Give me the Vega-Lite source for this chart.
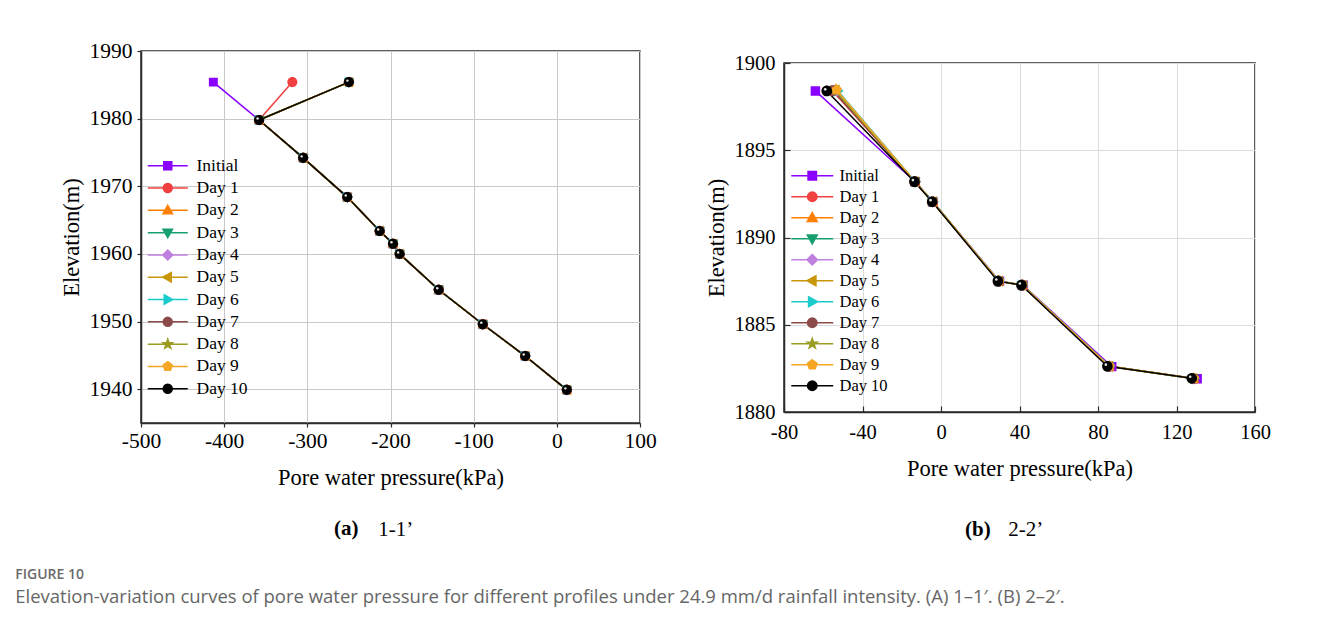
{
  "$schema": "https://vega.github.io/schema/vega-lite/v6.json",
  "padding": {"left": 15, "top": 39, "right": 10, "bottom": 10},
  "datasets": {
    "A": [
      {"s":"Initial","i":0,"x":-413,"y":1985.4},{"s":"Initial","i":1,"x":-358,"y":1979.8},{"s":"Initial","i":2,"x":-305,"y":1974.2},{"s":"Initial","i":3,"x":-252,"y":1968.4},{"s":"Initial","i":4,"x":-213,"y":1963.4},{"s":"Initial","i":5,"x":-197,"y":1961.5},{"s":"Initial","i":6,"x":-189,"y":1960},{"s":"Initial","i":7,"x":-142,"y":1954.7},{"s":"Initial","i":8,"x":-89,"y":1949.6},{"s":"Initial","i":9,"x":-38,"y":1944.9},{"s":"Initial","i":10,"x":12,"y":1939.9},
      {"s":"Day 1","i":0,"x":-318,"y":1985.4},{"s":"Day 1","i":1,"x":-358,"y":1979.8},{"s":"Day 1","i":2,"x":-305,"y":1974.2},{"s":"Day 1","i":3,"x":-252,"y":1968.4},{"s":"Day 1","i":4,"x":-213,"y":1963.4},{"s":"Day 1","i":5,"x":-197,"y":1961.5},{"s":"Day 1","i":6,"x":-189,"y":1960},{"s":"Day 1","i":7,"x":-142,"y":1954.7},{"s":"Day 1","i":8,"x":-89,"y":1949.6},{"s":"Day 1","i":9,"x":-38,"y":1944.9},{"s":"Day 1","i":10,"x":12,"y":1939.9},
      {"s":"Day 2","i":0,"x":-250,"y":1985.4},{"s":"Day 2","i":1,"x":-358,"y":1979.8},{"s":"Day 2","i":2,"x":-305,"y":1974.2},{"s":"Day 2","i":3,"x":-252,"y":1968.4},{"s":"Day 2","i":4,"x":-213,"y":1963.4},{"s":"Day 2","i":5,"x":-197,"y":1961.5},{"s":"Day 2","i":6,"x":-189,"y":1960},{"s":"Day 2","i":7,"x":-142,"y":1954.7},{"s":"Day 2","i":8,"x":-89,"y":1949.6},{"s":"Day 2","i":9,"x":-38,"y":1944.9},{"s":"Day 2","i":10,"x":12,"y":1939.9},
      {"s":"Day 3","i":0,"x":-250,"y":1985.4},{"s":"Day 3","i":1,"x":-358,"y":1979.8},{"s":"Day 3","i":2,"x":-305,"y":1974.2},{"s":"Day 3","i":3,"x":-252,"y":1968.4},{"s":"Day 3","i":4,"x":-213,"y":1963.4},{"s":"Day 3","i":5,"x":-197,"y":1961.5},{"s":"Day 3","i":6,"x":-189,"y":1960},{"s":"Day 3","i":7,"x":-142,"y":1954.7},{"s":"Day 3","i":8,"x":-89,"y":1949.6},{"s":"Day 3","i":9,"x":-38,"y":1944.9},{"s":"Day 3","i":10,"x":12,"y":1939.9},
      {"s":"Day 4","i":0,"x":-250,"y":1985.4},{"s":"Day 4","i":1,"x":-358,"y":1979.8},{"s":"Day 4","i":2,"x":-305,"y":1974.2},{"s":"Day 4","i":3,"x":-252,"y":1968.4},{"s":"Day 4","i":4,"x":-213,"y":1963.4},{"s":"Day 4","i":5,"x":-197,"y":1961.5},{"s":"Day 4","i":6,"x":-189,"y":1960},{"s":"Day 4","i":7,"x":-142,"y":1954.7},{"s":"Day 4","i":8,"x":-89,"y":1949.6},{"s":"Day 4","i":9,"x":-38,"y":1944.9},{"s":"Day 4","i":10,"x":12,"y":1939.9},
      {"s":"Day 5","i":0,"x":-250,"y":1985.4},{"s":"Day 5","i":1,"x":-358,"y":1979.8},{"s":"Day 5","i":2,"x":-305,"y":1974.2},{"s":"Day 5","i":3,"x":-252,"y":1968.4},{"s":"Day 5","i":4,"x":-213,"y":1963.4},{"s":"Day 5","i":5,"x":-197,"y":1961.5},{"s":"Day 5","i":6,"x":-189,"y":1960},{"s":"Day 5","i":7,"x":-142,"y":1954.7},{"s":"Day 5","i":8,"x":-89,"y":1949.6},{"s":"Day 5","i":9,"x":-38,"y":1944.9},{"s":"Day 5","i":10,"x":12,"y":1939.9},
      {"s":"Day 6","i":0,"x":-250,"y":1985.4},{"s":"Day 6","i":1,"x":-358,"y":1979.8},{"s":"Day 6","i":2,"x":-305,"y":1974.2},{"s":"Day 6","i":3,"x":-252,"y":1968.4},{"s":"Day 6","i":4,"x":-213,"y":1963.4},{"s":"Day 6","i":5,"x":-197,"y":1961.5},{"s":"Day 6","i":6,"x":-189,"y":1960},{"s":"Day 6","i":7,"x":-142,"y":1954.7},{"s":"Day 6","i":8,"x":-89,"y":1949.6},{"s":"Day 6","i":9,"x":-38,"y":1944.9},{"s":"Day 6","i":10,"x":12,"y":1939.9},
      {"s":"Day 7","i":0,"x":-250,"y":1985.4},{"s":"Day 7","i":1,"x":-358,"y":1979.8},{"s":"Day 7","i":2,"x":-305,"y":1974.2},{"s":"Day 7","i":3,"x":-252,"y":1968.4},{"s":"Day 7","i":4,"x":-213,"y":1963.4},{"s":"Day 7","i":5,"x":-197,"y":1961.5},{"s":"Day 7","i":6,"x":-189,"y":1960},{"s":"Day 7","i":7,"x":-142,"y":1954.7},{"s":"Day 7","i":8,"x":-89,"y":1949.6},{"s":"Day 7","i":9,"x":-38,"y":1944.9},{"s":"Day 7","i":10,"x":12,"y":1939.9},
      {"s":"Day 8","i":0,"x":-250,"y":1985.4},{"s":"Day 8","i":1,"x":-358,"y":1979.8},{"s":"Day 8","i":2,"x":-305,"y":1974.2},{"s":"Day 8","i":3,"x":-252,"y":1968.4},{"s":"Day 8","i":4,"x":-213,"y":1963.4},{"s":"Day 8","i":5,"x":-197,"y":1961.5},{"s":"Day 8","i":6,"x":-189,"y":1960},{"s":"Day 8","i":7,"x":-142,"y":1954.7},{"s":"Day 8","i":8,"x":-89,"y":1949.6},{"s":"Day 8","i":9,"x":-38,"y":1944.9},{"s":"Day 8","i":10,"x":12,"y":1939.9},
      {"s":"Day 9","i":0,"x":-250,"y":1985.4},{"s":"Day 9","i":1,"x":-358,"y":1979.8},{"s":"Day 9","i":2,"x":-305,"y":1974.2},{"s":"Day 9","i":3,"x":-252,"y":1968.4},{"s":"Day 9","i":4,"x":-213,"y":1963.4},{"s":"Day 9","i":5,"x":-197,"y":1961.5},{"s":"Day 9","i":6,"x":-189,"y":1960},{"s":"Day 9","i":7,"x":-142,"y":1954.7},{"s":"Day 9","i":8,"x":-89,"y":1949.6},{"s":"Day 9","i":9,"x":-38,"y":1944.9},{"s":"Day 9","i":10,"x":12,"y":1939.9},
      {"s":"Day 10","i":0,"x":-250,"y":1985.4},{"s":"Day 10","i":1,"x":-358,"y":1979.8},{"s":"Day 10","i":2,"x":-305,"y":1974.2},{"s":"Day 10","i":3,"x":-252,"y":1968.4},{"s":"Day 10","i":4,"x":-213,"y":1963.4},{"s":"Day 10","i":5,"x":-197,"y":1961.5},{"s":"Day 10","i":6,"x":-189,"y":1960},{"s":"Day 10","i":7,"x":-142,"y":1954.7},{"s":"Day 10","i":8,"x":-89,"y":1949.6},{"s":"Day 10","i":9,"x":-38,"y":1944.9},{"s":"Day 10","i":10,"x":12,"y":1939.9}
    ],
    "B": [
      {"s":"Initial","i":0,"x":-64,"y":1898.4},{"s":"Initial","i":1,"x":-13.2,"y":1893.2},{"s":"Initial","i":2,"x":-4.2,"y":1892.05},{"s":"Initial","i":3,"x":29.8,"y":1887.5},{"s":"Initial","i":4,"x":41.8,"y":1887.27},{"s":"Initial","i":5,"x":87,"y":1882.6},{"s":"Initial","i":6,"x":130.5,"y":1881.9},
      {"s":"Day 1","i":0,"x":-55.5,"y":1898.42},{"s":"Day 1","i":1,"x":-13.3,"y":1893.2},{"s":"Day 1","i":2,"x":-4.3,"y":1892.05},{"s":"Day 1","i":3,"x":29.4,"y":1887.5},{"s":"Day 1","i":4,"x":41.4,"y":1887.27},{"s":"Day 1","i":5,"x":85.6,"y":1882.62},{"s":"Day 1","i":6,"x":128.6,"y":1881.92},
      {"s":"Day 2","i":0,"x":-53.5,"y":1898.5},{"s":"Day 2","i":1,"x":-13.2,"y":1893.2},{"s":"Day 2","i":2,"x":-4.2,"y":1892.05},{"s":"Day 2","i":3,"x":29.5,"y":1887.5},{"s":"Day 2","i":4,"x":41.5,"y":1887.27},{"s":"Day 2","i":5,"x":85.8,"y":1882.62},{"s":"Day 2","i":6,"x":128.8,"y":1881.92},
      {"s":"Day 3","i":0,"x":-54.5,"y":1898.45},{"s":"Day 3","i":1,"x":-13.3,"y":1893.18},{"s":"Day 3","i":2,"x":-4.3,"y":1892.04},{"s":"Day 3","i":3,"x":29.4,"y":1887.49},{"s":"Day 3","i":4,"x":41.4,"y":1887.26},{"s":"Day 3","i":5,"x":85.6,"y":1882.61},{"s":"Day 3","i":6,"x":128.6,"y":1881.91},
      {"s":"Day 4","i":0,"x":-53,"y":1898.42},{"s":"Day 4","i":1,"x":-13.2,"y":1893.2},{"s":"Day 4","i":2,"x":-4.2,"y":1892.05},{"s":"Day 4","i":3,"x":29.5,"y":1887.5},{"s":"Day 4","i":4,"x":41.5,"y":1887.27},{"s":"Day 4","i":5,"x":85.8,"y":1882.62},{"s":"Day 4","i":6,"x":128.8,"y":1881.92},
      {"s":"Day 5","i":0,"x":-53.8,"y":1898.46},{"s":"Day 5","i":1,"x":-13.3,"y":1893.2},{"s":"Day 5","i":2,"x":-4.3,"y":1892.05},{"s":"Day 5","i":3,"x":29.4,"y":1887.5},{"s":"Day 5","i":4,"x":41.4,"y":1887.27},{"s":"Day 5","i":5,"x":85.6,"y":1882.62},{"s":"Day 5","i":6,"x":128.6,"y":1881.92},
      {"s":"Day 6","i":0,"x":-52.5,"y":1898.4},{"s":"Day 6","i":1,"x":-13.1,"y":1893.2},{"s":"Day 6","i":2,"x":-4.1,"y":1892.05},{"s":"Day 6","i":3,"x":29.6,"y":1887.5},{"s":"Day 6","i":4,"x":41.6,"y":1887.27},{"s":"Day 6","i":5,"x":86,"y":1882.62},{"s":"Day 6","i":6,"x":129,"y":1881.92},
      {"s":"Day 7","i":0,"x":-55,"y":1898.42},{"s":"Day 7","i":1,"x":-13.3,"y":1893.2},{"s":"Day 7","i":2,"x":-4.3,"y":1892.05},{"s":"Day 7","i":3,"x":29.4,"y":1887.5},{"s":"Day 7","i":4,"x":41.4,"y":1887.27},{"s":"Day 7","i":5,"x":85.6,"y":1882.62},{"s":"Day 7","i":6,"x":128.6,"y":1881.92},
      {"s":"Day 8","i":0,"x":-54,"y":1898.44},{"s":"Day 8","i":1,"x":-13.3,"y":1893.2},{"s":"Day 8","i":2,"x":-4.3,"y":1892.05},{"s":"Day 8","i":3,"x":29.4,"y":1887.5},{"s":"Day 8","i":4,"x":41.4,"y":1887.27},{"s":"Day 8","i":5,"x":85.6,"y":1882.62},{"s":"Day 8","i":6,"x":128.6,"y":1881.92},
      {"s":"Day 9","i":0,"x":-53.2,"y":1898.45},{"s":"Day 9","i":1,"x":-13.2,"y":1893.2},{"s":"Day 9","i":2,"x":-4.2,"y":1892.05},{"s":"Day 9","i":3,"x":29.5,"y":1887.5},{"s":"Day 9","i":4,"x":41.5,"y":1887.27},{"s":"Day 9","i":5,"x":85.8,"y":1882.62},{"s":"Day 9","i":6,"x":128.8,"y":1881.92},
      {"s":"Day 10","i":0,"x":-58.2,"y":1898.4},{"s":"Day 10","i":1,"x":-13.5,"y":1893.2},{"s":"Day 10","i":2,"x":-4.5,"y":1892.05},{"s":"Day 10","i":3,"x":29,"y":1887.5},{"s":"Day 10","i":4,"x":41,"y":1887.27},{"s":"Day 10","i":5,"x":84.8,"y":1882.62},{"s":"Day 10","i":6,"x":127.8,"y":1881.93}
    ]
  },
  "title": {
    "text": "FIGURE 10",
    "subtitle": "Elevation-variation curves of pore water pressure for different profiles under 24.9 mm/d rainfall intensity. (A) 1–1′. (B) 2–2′.",
    "orient": "bottom", "anchor": "start", "frame": "bounds", "dx": -44, "offset": 28,
    "font": "Open Sans", "fontSize": 14, "fontWeight": 600, "color": "#6b6b6b",
    "subtitleFont": "Open Sans", "subtitleFontSize": 18.5, "subtitleColor": "#666666", "subtitlePadding": 6
  },
  "spacing": 47,
  "resolve": {
    "scale": {"x": "independent", "y": "independent", "color": "independent", "fill": "independent", "stroke": "independent", "shape": "independent"},
    "legend": {"color": "independent", "fill": "independent", "stroke": "independent", "shape": "independent"}
  },
  "hconcat": [
    {
      "title": {"text": "1-1’", "orient": "bottom", "anchor": "start", "frame": "bounds", "dx": 319, "dy": -21, "offset": 0,
                "font": "Liberation Serif", "fontSize": 21, "fontWeight": "normal", "color": "#000000"},
      "resolve": {
        "scale": {"x": "independent", "y": "independent", "color": "independent", "fill": "independent", "stroke": "independent", "shape": "independent"},
        "legend": {"color": "independent", "fill": "independent", "stroke": "independent", "shape": "independent"}
      },
      "vconcat": [
        {
          "width": 499, "height": 372,
          "data": {"name": "A"},
          "title": {
            "text": "(a)", "orient": "bottom", "anchor": "start", "frame": "group", "dx": 193, "offset": 29,
            "font": "Liberation Serif", "fontSize": 21, "fontWeight": "bold", "color": "#000000"
          },
          "resolve": {
            "scale": {"fill": "independent", "stroke": "independent", "shape": "independent"},
            "legend": {"fill": "independent", "stroke": "independent", "shape": "independent"}
          },
          "encoding": {
            "x": {"field": "x", "type": "quantitative", "scale": {"domain": [-500, 100], "nice": false, "zero": false},
                  "axis": {"title": "Pore water pressure(kPa)", "values": [-500, -400, -300, -200, -100, 0, 100], "labelExpr": "'' + datum.value", "labelFontSize": 21.5, "tickSize": 4, "labelPadding": 3, "titlePadding": 15, "gridColor": "#c8c8c8"}},
            "y": {"field": "y", "type": "quantitative", "scale": {"domain": [1935, 1990], "nice": false, "zero": false},
                  "axis": {"title": "Elevation(m)", "values": [1940, 1950, 1960, 1970, 1980, 1990], "labelExpr": "'' + datum.value", "labelFontSize": 21.5, "tickSize": 4, "labelPadding": 5, "titlePadding": 6, "gridColor": "#c8c8c8"}}
          },
          "layer": [
            {
              "mark": {"type": "line", "strokeWidth": 1.5},
              "encoding": {
                "color": {"field": "s", "type": "nominal", "scale": {"domain": ["Initial","Day 1","Day 2","Day 3","Day 4","Day 5","Day 6","Day 7","Day 8","Day 9","Day 10"], "range": ["#8A00FF","#F14040","#FF7F00","#16A06F","#BF80E0","#C8960A","#1BCBCB","#8C4A4A","#9C9C22","#F5A623","#000000"]}, "legend": null},
                "order": {"field": "i", "type": "quantitative"}
              }
            },
            {
              "mark": {"type": "point", "filled": true, "size": 125, "opacity": 1},
              "encoding": {
                "color": {"field": "s", "type": "nominal", "scale": {"domain": ["Initial","Day 1","Day 2","Day 3","Day 4","Day 5","Day 6","Day 7","Day 8","Day 9","Day 10"], "range": ["#8A00FF","#F14040","#FF7F00","#16A06F","#BF80E0","#C8960A","#1BCBCB","#8C4A4A","#9C9C22","#F5A623","#000000"]}, "legend": null},
                "shape": {"field": "s", "type": "nominal", "scale": {"domain": ["Initial","Day 1","Day 2","Day 3","Day 4","Day 5","Day 6","Day 7","Day 8","Day 9","Day 10"], "range": ["M-4,0H4M-0.8,-0.8H0.8V0.8H-0.8Z","M-4,0H4M-0.9,0A0.9,0.9,0,1,0,0.9,0A0.9,0.9,0,1,0,-0.9,0Z","M-4,0H4M0,-1L0.95,0.7H-0.95Z","M-4,0H4M0,1L0.95,-0.7H-0.95Z","M-4,0H4M0,-1L1,0L0,1L-1,0Z","M-4,0H4M-1,0L0.7,-0.95V0.95Z","M-4,0H4M1,0L-0.7,-0.95V0.95Z","M-4,0H4M-0.9,0A0.9,0.9,0,1,0,0.9,0A0.9,0.9,0,1,0,-0.9,0Z","M-4,0H4M0,-1L0.235,-0.324L0.951,-0.309L0.38,0.124L0.588,0.809L0,0.4L-0.588,0.809L-0.38,0.124L-0.951,-0.309L-0.235,-0.324Z","M-4,0H4M0,-0.95L0.9,-0.29L0.56,0.77H-0.56L-0.9,-0.29Z","M-4,0H4M-0.9,0A0.9,0.9,0,1,0,0.9,0A0.9,0.9,0,1,0,-0.9,0Z"]}, "legend": null}
              }
            },
            {
              "transform": [{"filter": "datum.s == 'Day 10'"}],
              "mark": {"type": "point", "filled": true, "size": 6, "opacity": 0.9, "color": "#ffffff", "xOffset": -1.5, "yOffset": -1.5}
            },
            {
              "transform": [{"filter": "false"}],
              "mark": {"type": "point", "filled": true, "opacity": 1, "strokeWidth": 1.5},
              "encoding": {
                "fill": {"field": "s", "type": "nominal", "scale": {"domain": ["Initial","Day 1","Day 2","Day 3","Day 4","Day 5","Day 6","Day 7","Day 8","Day 9","Day 10"], "range": ["#8A00FF","#F14040","#FF7F00","#16A06F","#BF80E0","#C8960A","#1BCBCB","#8C4A4A","#9C9C22","#F5A623","#000000"]},
                         "legend": {"title": null, "orient": "none", "legendX": 18, "legendY": 106, "symbolSize": 100, "symbolStrokeWidth": 1.5, "labelOffset": 20, "labelFont": "Liberation Serif", "labelFontSize": 17.5, "labelColor": "#000000", "rowPadding": 3.3, "padding": 0}},
                "stroke": {"field": "s", "type": "nominal", "scale": {"domain": ["Initial","Day 1","Day 2","Day 3","Day 4","Day 5","Day 6","Day 7","Day 8","Day 9","Day 10"], "range": ["#8A00FF","#F14040","#FF7F00","#16A06F","#BF80E0","#C8960A","#1BCBCB","#8C4A4A","#9C9C22","#F5A623","#000000"]},
                         "legend": {"title": null, "orient": "none", "legendX": 18, "legendY": 106, "symbolSize": 100, "symbolStrokeWidth": 1.5, "labelOffset": 20, "labelFont": "Liberation Serif", "labelFontSize": 17.5, "labelColor": "#000000", "rowPadding": 3.3, "padding": 0}},
                "shape": {"field": "s", "type": "nominal", "scale": {"domain": ["Initial","Day 1","Day 2","Day 3","Day 4","Day 5","Day 6","Day 7","Day 8","Day 9","Day 10"], "range": ["M-4,0H4M-0.8,-0.8H0.8V0.8H-0.8Z","M-4,0H4M-0.9,0A0.9,0.9,0,1,0,0.9,0A0.9,0.9,0,1,0,-0.9,0Z","M-4,0H4M0,-1L0.95,0.7H-0.95Z","M-4,0H4M0,1L0.95,-0.7H-0.95Z","M-4,0H4M0,-1L1,0L0,1L-1,0Z","M-4,0H4M-1,0L0.7,-0.95V0.95Z","M-4,0H4M1,0L-0.7,-0.95V0.95Z","M-4,0H4M-0.9,0A0.9,0.9,0,1,0,0.9,0A0.9,0.9,0,1,0,-0.9,0Z","M-4,0H4M0,-1L0.235,-0.324L0.951,-0.309L0.38,0.124L0.588,0.809L0,0.4L-0.588,0.809L-0.38,0.124L-0.951,-0.309L-0.235,-0.324Z","M-4,0H4M0,-0.95L0.9,-0.29L0.56,0.77H-0.56L-0.9,-0.29Z","M-4,0H4M-0.9,0A0.9,0.9,0,1,0,0.9,0A0.9,0.9,0,1,0,-0.9,0Z"]},
                         "legend": {"title": null, "orient": "none", "legendX": 18, "legendY": 106, "symbolSize": 100, "symbolStrokeWidth": 1.5, "labelOffset": 20, "labelFont": "Liberation Serif", "labelFontSize": 17.5, "labelColor": "#000000", "rowPadding": 3.3, "padding": 0}}
              }
            }
          ]
        }
      ]
    },
    {
      "title": {"text": "2-2’", "orient": "bottom", "anchor": "start", "frame": "bounds", "dx": 304, "dy": -21, "offset": 0,
                "font": "Liberation Serif", "fontSize": 21, "fontWeight": "normal", "color": "#000000"},
      "spacing": 0,
      "resolve": {
        "scale": {"x": "independent", "y": "independent", "color": "independent", "fill": "independent", "stroke": "independent", "shape": "independent"},
        "legend": {"color": "independent", "fill": "independent", "stroke": "independent", "shape": "independent"}
      },
      "vconcat": [
        {"width": 10, "height": 1, "data": {"values": []}, "mark": "point", "view": {"stroke": null}},
        {
          "width": 471, "height": 349,
          "data": {"name": "B"},
          "title": {
            "text": "(b)", "orient": "bottom", "anchor": "start", "frame": "group", "dx": 181, "offset": 39,
            "font": "Liberation Serif", "fontSize": 21, "fontWeight": "bold", "color": "#000000"
          },
          "resolve": {
            "scale": {"fill": "independent", "stroke": "independent", "shape": "independent"},
            "legend": {"fill": "independent", "stroke": "independent", "shape": "independent"}
          },
          "encoding": {
            "x": {"field": "x", "type": "quantitative", "scale": {"domain": [-80, 160], "nice": false, "zero": false},
                  "axis": {"title": "Pore water pressure(kPa)", "values": [-80, -40, 0, 40, 80, 120, 160], "labelExpr": "'' + datum.value", "labelFontSize": 20.5, "tickSize": -6, "labelPadding": 16.5, "titlePadding": 14, "gridColor": "#dcdcdc"}},
            "y": {"field": "y", "type": "quantitative", "scale": {"domain": [1880, 1900], "nice": false, "zero": false},
                  "axis": {"title": "Elevation(m)", "values": [1880, 1885, 1890, 1895, 1900], "labelExpr": "'' + datum.value", "labelFontSize": 20.5, "tickSize": -6, "labelPadding": 15, "titlePadding": 6, "gridColor": "#dcdcdc"}}
          },
          "layer": [
            {
              "mark": {"type": "line", "strokeWidth": 1.5},
              "encoding": {
                "color": {"field": "s", "type": "nominal", "scale": {"domain": ["Initial","Day 1","Day 2","Day 3","Day 4","Day 5","Day 6","Day 7","Day 8","Day 9","Day 10"], "range": ["#8A00FF","#F14040","#FF7F00","#16A06F","#BF80E0","#C8960A","#1BCBCB","#8C4A4A","#9C9C22","#F5A623","#000000"]}, "legend": null},
                "order": {"field": "i", "type": "quantitative"}
              }
            },
            {
              "mark": {"type": "point", "filled": true, "size": 140, "opacity": 1},
              "encoding": {
                "color": {"field": "s", "type": "nominal", "scale": {"domain": ["Initial","Day 1","Day 2","Day 3","Day 4","Day 5","Day 6","Day 7","Day 8","Day 9","Day 10"], "range": ["#8A00FF","#F14040","#FF7F00","#16A06F","#BF80E0","#C8960A","#1BCBCB","#8C4A4A","#9C9C22","#F5A623","#000000"]}, "legend": null},
                "shape": {"field": "s", "type": "nominal", "scale": {"domain": ["Initial","Day 1","Day 2","Day 3","Day 4","Day 5","Day 6","Day 7","Day 8","Day 9","Day 10"], "range": ["M-4,0H4M-0.8,-0.8H0.8V0.8H-0.8Z","M-4,0H4M-0.9,0A0.9,0.9,0,1,0,0.9,0A0.9,0.9,0,1,0,-0.9,0Z","M-4,0H4M0,-1L0.95,0.7H-0.95Z","M-4,0H4M0,1L0.95,-0.7H-0.95Z","M-4,0H4M0,-1L1,0L0,1L-1,0Z","M-4,0H4M-1,0L0.7,-0.95V0.95Z","M-4,0H4M1,0L-0.7,-0.95V0.95Z","M-4,0H4M-0.9,0A0.9,0.9,0,1,0,0.9,0A0.9,0.9,0,1,0,-0.9,0Z","M-4,0H4M0,-1L0.235,-0.324L0.951,-0.309L0.38,0.124L0.588,0.809L0,0.4L-0.588,0.809L-0.38,0.124L-0.951,-0.309L-0.235,-0.324Z","M-4,0H4M0,-0.95L0.9,-0.29L0.56,0.77H-0.56L-0.9,-0.29Z","M-4,0H4M-0.9,0A0.9,0.9,0,1,0,0.9,0A0.9,0.9,0,1,0,-0.9,0Z"]}, "legend": null}
              }
            },
            {
              "transform": [{"filter": "datum.s == 'Day 10'"}],
              "mark": {"type": "point", "filled": true, "size": 7, "opacity": 0.9, "color": "#ffffff", "xOffset": -1.6, "yOffset": -1.6}
            },
            {
              "transform": [{"filter": "false"}],
              "mark": {"type": "point", "filled": true, "opacity": 1, "strokeWidth": 1.5},
              "encoding": {
                "fill": {"field": "s", "type": "nominal", "scale": {"domain": ["Initial","Day 1","Day 2","Day 3","Day 4","Day 5","Day 6","Day 7","Day 8","Day 9","Day 10"], "range": ["#8A00FF","#F14040","#FF7F00","#16A06F","#BF80E0","#C8960A","#1BCBCB","#8C4A4A","#9C9C22","#F5A623","#000000"]},
                         "legend": {"title": null, "orient": "none", "legendX": 20, "legendY": 104.5, "symbolSize": 110, "symbolStrokeWidth": 1.5, "labelOffset": 19, "labelFont": "Liberation Serif", "labelFontSize": 16.5, "labelColor": "#000000", "rowPadding": 4, "padding": 0}},
                "stroke": {"field": "s", "type": "nominal", "scale": {"domain": ["Initial","Day 1","Day 2","Day 3","Day 4","Day 5","Day 6","Day 7","Day 8","Day 9","Day 10"], "range": ["#8A00FF","#F14040","#FF7F00","#16A06F","#BF80E0","#C8960A","#1BCBCB","#8C4A4A","#9C9C22","#F5A623","#000000"]},
                         "legend": {"title": null, "orient": "none", "legendX": 20, "legendY": 104.5, "symbolSize": 110, "symbolStrokeWidth": 1.5, "labelOffset": 19, "labelFont": "Liberation Serif", "labelFontSize": 16.5, "labelColor": "#000000", "rowPadding": 4, "padding": 0}},
                "shape": {"field": "s", "type": "nominal", "scale": {"domain": ["Initial","Day 1","Day 2","Day 3","Day 4","Day 5","Day 6","Day 7","Day 8","Day 9","Day 10"], "range": ["M-4,0H4M-0.8,-0.8H0.8V0.8H-0.8Z","M-4,0H4M-0.9,0A0.9,0.9,0,1,0,0.9,0A0.9,0.9,0,1,0,-0.9,0Z","M-4,0H4M0,-1L0.95,0.7H-0.95Z","M-4,0H4M0,1L0.95,-0.7H-0.95Z","M-4,0H4M0,-1L1,0L0,1L-1,0Z","M-4,0H4M-1,0L0.7,-0.95V0.95Z","M-4,0H4M1,0L-0.7,-0.95V0.95Z","M-4,0H4M-0.9,0A0.9,0.9,0,1,0,0.9,0A0.9,0.9,0,1,0,-0.9,0Z","M-4,0H4M0,-1L0.235,-0.324L0.951,-0.309L0.38,0.124L0.588,0.809L0,0.4L-0.588,0.809L-0.38,0.124L-0.951,-0.309L-0.235,-0.324Z","M-4,0H4M0,-0.95L0.9,-0.29L0.56,0.77H-0.56L-0.9,-0.29Z","M-4,0H4M-0.9,0A0.9,0.9,0,1,0,0.9,0A0.9,0.9,0,1,0,-0.9,0Z"]},
                         "legend": {"title": null, "orient": "none", "legendX": 20, "legendY": 104.5, "symbolSize": 110, "symbolStrokeWidth": 1.5, "labelOffset": 19, "labelFont": "Liberation Serif", "labelFontSize": 16.5, "labelColor": "#000000", "rowPadding": 4, "padding": 0}}
              }
            }
          ]
        }
      ]
    }
  ],
  "config": {
    "background": "#ffffff",
    "view": {"stroke": "#2b2b2b", "strokeWidth": 1.5},
    "axis": {
      "labelFont": "Liberation Serif", "labelFontSize": 21, "labelColor": "#000000",
      "titleFont": "Liberation Serif", "titleFontSize": 22.5, "titleFontWeight": "normal", "titleColor": "#000000",
      "domainColor": "#2b2b2b", "domainWidth": 1.5, "tickColor": "#2b2b2b", "tickWidth": 1.2,
      "gridWidth": 1, "labelFlush": false, "labelOverlap": false
    }
  }
}
